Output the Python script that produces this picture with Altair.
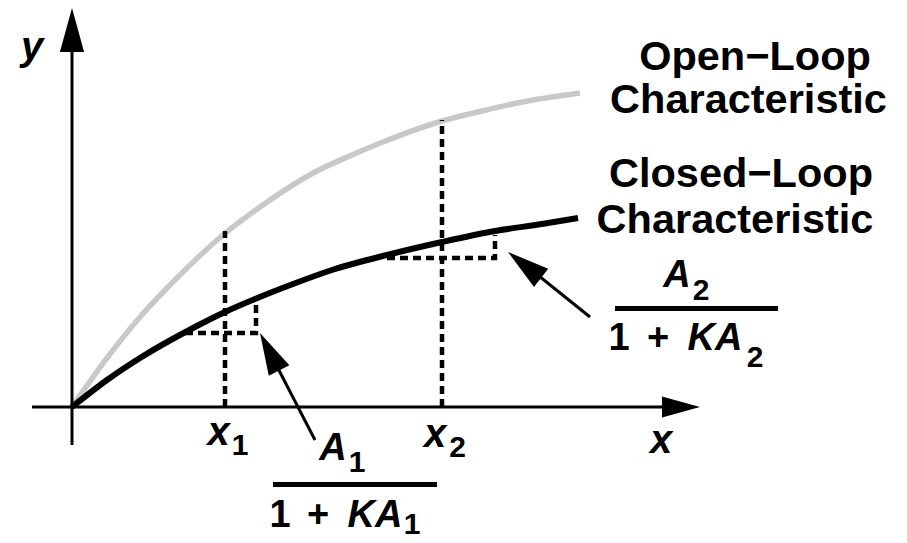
import altair as alt
import pandas as pd

# ---- data (origin at the axes crossing, y pointing up, units ~ px) ----
open_x = [0, 35, 68, 101, 151, 188, 245, 280, 311, 370, 410, 445, 508]
open_y = [0, 49, 90, 125, 172, 200, 236, 252, 265, 286, 296, 304, 314]
closed_x = [0, 35, 68, 121, 153, 183, 221, 260, 315, 370, 423, 470, 506]
closed_y = [0, 27, 49, 79, 95, 108, 123, 137, 152, 165, 176, 183, 189]

x1_pos, x2_pos = 153, 370
x1_top, x2_top = 176, 287

# segment polylines: (id, [(x, y), ...])
axis_segments = [("yaxis", [(0, -38), (0, 357)]), ("xaxis", [(-40, 0), (593, 0)])]
dashed_segments = [
    ("v1", [(x1_pos, 0), (x1_pos, x1_top)]),
    ("v2", [(x2_pos, 0), (x2_pos, x2_top)]),
    ("r1", [(113, 74), (184, 74), (184, 106)]),
    ("r2", [(315, 149), (423, 149), (423, 172)]),
]
shaft_segments = [("a1", [(243, -33), (197, 56)]), ("a2", [(518, 90), (452, 143)])]
bar_segments = [("b1", [(201, -77.5), (365, -77.5)]), ("b2", [(543, 98.5), (706, 98.5)])]

head_x = [0, 628, 188, 436]
head_y = [399, 0, 74, 155]
head_angle = [0, 90, 333, 308]
head_size = [1936, 1444, 1764, 1764]

normal_text = ["Open−Loop", "Characteristic", "Closed−Loop", "Characteristic",
               "1", "2", "1", "1", "+", "1", "2", "1", "+", "2"]
normal_x = [683, 676.5, 669, 663, 168, 385.5, 285, 208, 246, 340, 629, 547, 586, 683]
normal_y = [337, 294, 220, 174, -48, -50, -65, -120, -120, -127, 107, 57, 57, 40]
normal_size = [41.5, 41.5, 41.5, 41.5, 30, 30, 30, 38, 38, 30, 30, 38, 38, 30]

italic_text = ["y", "x", "x", "x", "A", "KA", "A", "KA"]
italic_x = [-40, 589, 146.5, 363, 261, 303, 605, 643]
italic_y = [347, -46, -38, -40, -53, -120, 120, 57]
italic_size = [40, 40, 40, 40, 38, 38, 38, 38]

FONT = "Liberation Sans"
XS = alt.Scale(domain=[-64, 827], nice=False, zero=False)
YS = alt.Scale(domain=[-128, 399], nice=False, zero=False)


def seg_df(segs):
    rows = []
    for sid, pts in segs:
        for i, (x, y) in enumerate(pts):
            rows.append({"id": sid, "o": i, "x": x, "y": y})
    return pd.DataFrame(rows)


def lines(df, **mk):
    return alt.Chart(df).mark_line(**mk).encode(
        x=alt.X("x:Q", scale=XS, axis=None),
        y=alt.Y("y:Q", scale=YS, axis=None),
        detail="id:N",
        order="o:Q",
    )


open_df = pd.DataFrame({"x": open_x, "y": open_y, "id": "open", "o": range(len(open_x))})
closed_df = pd.DataFrame({"x": closed_x, "y": closed_y, "id": "closed", "o": range(len(closed_x))})

gray = lines(open_df, color="#c8c8c8", strokeWidth=5.5, interpolate="monotone", strokeCap="butt")
black = lines(closed_df, color="black", strokeWidth=6, interpolate="monotone", strokeCap="butt")
axes = lines(seg_df(axis_segments), color="black", strokeWidth=3)
dashed = lines(seg_df(dashed_segments), color="black", strokeWidth=4.5, strokeDash=[8, 5])
shafts = lines(seg_df(shaft_segments), color="black", strokeWidth=3)
bars = lines(seg_df(bar_segments), color="black", strokeWidth=5)

heads_df = pd.DataFrame({"x": head_x, "y": head_y, "a": head_angle, "s": head_size})
heads = alt.Chart(heads_df).mark_point(
    filled=True, shape="M0,0L-0.55,2L0.55,2Z", color="black", opacity=1, strokeWidth=0
).encode(
    x=alt.X("x:Q", scale=XS, axis=None),
    y=alt.Y("y:Q", scale=YS, axis=None),
    angle=alt.Angle("a:Q", scale=None),
    size=alt.Size("s:Q", scale=None),
)

ntext_df = pd.DataFrame({"t": normal_text, "x": normal_x, "y": normal_y, "s": normal_size})
itext_df = pd.DataFrame({"t": italic_text, "x": italic_x, "y": italic_y, "s": italic_size})


def texts(df, style):
    return alt.Chart(df).mark_text(
        font=FONT, fontWeight="bold", fontStyle=style, align="center",
        baseline="alphabetic", color="black"
    ).encode(
        x=alt.X("x:Q", scale=XS, axis=None),
        y=alt.Y("y:Q", scale=YS, axis=None),
        text="t:N",
        size=alt.Size("s:Q", scale=None),
    )


chart = alt.layer(
    gray, black, axes, dashed, shafts, bars, heads,
    texts(ntext_df, "normal"), texts(itext_df, "italic"),
).properties(
    width=891, height=527, padding=0, background="white"
).configure_view(stroke=None)

chart.save("out.html", embed_options={"renderer": "svg", "actions": False})
